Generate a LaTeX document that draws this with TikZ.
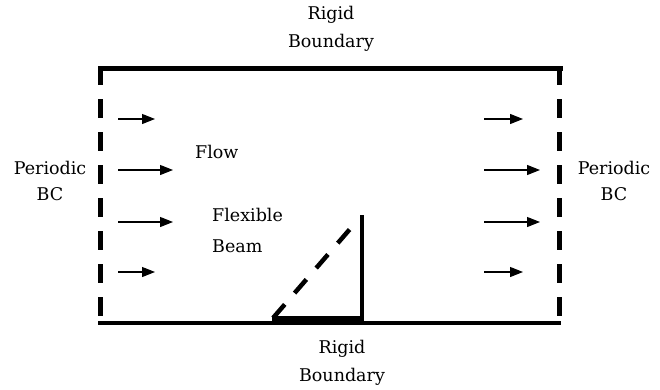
\documentclass[tikz,border=0pt]{standalone}
\usepackage{fontspec}
\setmainfont{DejaVu Serif}
\usetikzlibrary{arrows.meta}
\begin{document}
\begin{tikzpicture}[x=1pt,y=-1pt,
  lbl/.style={font=\fontsize{17.5}{17.5}\selectfont, inner sep=0pt},
  wall/.style={line width=5pt, line cap=rect},
  floor/.style={line width=4pt},
  periodic/.style={line width=5pt, dash pattern=on 19pt off 14pt},
  flow/.style={line width=1.1pt, -{Triangle[length=13pt,width=10pt]}},
  beam/.style={line width=3.5pt},
  beamdef/.style={line width=4.5pt, dash pattern=on 18pt off 15pt},
  base/.style={line width=8pt}]
\useasboundingbox (0,0) rectangle (660,389);

% frame corners
\coordinate (TL) at (100,68);
\coordinate (TR) at (560,68);
\coordinate (BL) at (100,322);
\coordinate (BR) at (560,322);

% rigid walls and periodic sides
\draw[wall] (TL) -- (TR);
\draw[floor] (98,323) -- (561,323);
\draw[periodic] (100,66) -- (BL);
\draw[periodic] (559,66) -- (559,322);

% inflow arrows
\coordinate (la1) at (118,119); \coordinate (lb1) at (155,119);
\coordinate (la2) at (118,170); \coordinate (lb2) at (173,170);
\coordinate (la3) at (118,222); \coordinate (lb3) at (173,222);
\coordinate (la4) at (118,272); \coordinate (lb4) at (155,272);
\foreach \i in {1,...,4} \draw[flow] (la\i) -- (lb\i);

% outflow arrows
\coordinate (ra1) at (484,119); \coordinate (rb1) at (523,119);
\coordinate (ra2) at (484,170); \coordinate (rb2) at (540,170);
\coordinate (ra3) at (484,222); \coordinate (rb3) at (540,222);
\coordinate (ra4) at (484,272); \coordinate (rb4) at (523,272);
\foreach \i in {1,...,4} \draw[flow] (ra\i) -- (rb\i);

% flexible beam: upright and deflected positions
\coordinate (root) at (272,320);
\coordinate (foot) at (363,320);
\coordinate (tip) at (362,215);
\coordinate (deftip) at (350,229);
\draw[base] (root) -- (foot);
\draw[beam] (362,322) -- (tip);
\draw[beamdef] (273,318) -- (deftip);

% labels
\node[lbl] (rt1) at (331,15) {Rigid};
\node[lbl] (rt2) at (331,43) {Boundary};
\node[lbl] (rb1t) at (342,349) {Rigid};
\node[lbl] (rb2t) at (342,377) {Boundary};
\node[lbl] (pl1) at (50,168) {Periodic};
\node[lbl] (pl2) at (50,194) {BC};
\node[lbl] (pr1) at (614,168) {Periodic};
\node[lbl] (pr2) at (614,194) {BC};
\node[lbl, anchor=west] (flow) at (195,152) {Flow};
\node[lbl, anchor=west] (flex) at (212,215) {Flexible};
\node[lbl, anchor=west] (beamt) at (212,246) {Beam};
\end{tikzpicture}
\end{document}
